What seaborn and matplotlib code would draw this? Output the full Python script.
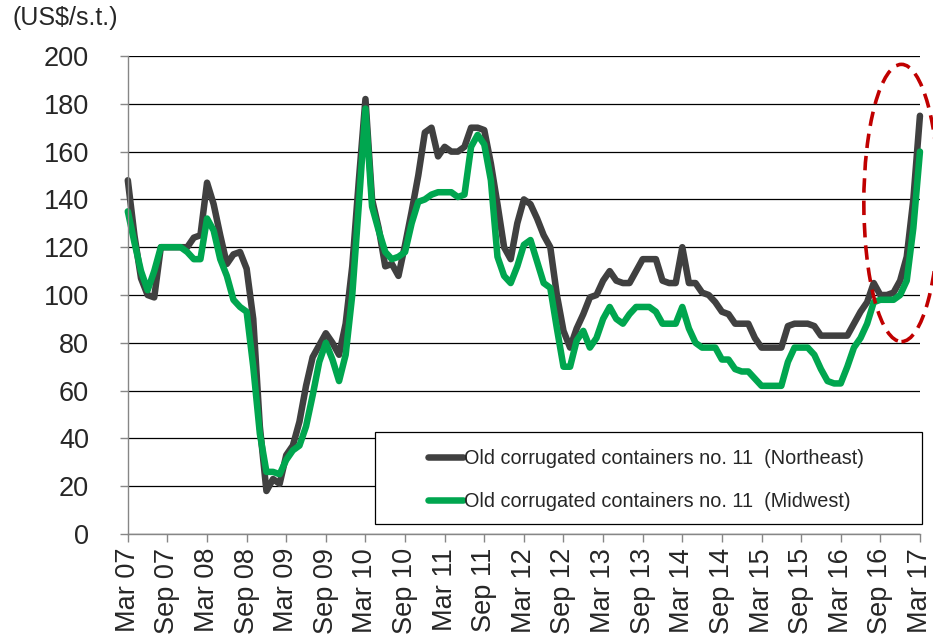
import matplotlib
matplotlib.use("Agg")
import matplotlib.pyplot as plt
from matplotlib.patches import Ellipse, Rectangle
import numpy as np
import pandas as pd
import seaborn as sns

# ---- data: monthly prices, Mar 07 .. Mar 17 (US$/short ton) ----
northeast = [
    148, 125, 107, 100, 99, 120, 120, 120, 120, 120,
    124, 125, 147, 138, 125, 113, 117, 118, 111, 90,
    45, 18, 23, 21, 33, 37, 47, 62, 74, 79,
    84, 80, 75, 88, 112, 148, 182, 140, 128, 112,
    113, 108, 121, 135, 150, 168, 170, 158, 162, 160,
    160, 162, 170, 170, 169, 155, 138, 120, 115, 130,
    140, 138, 132, 125, 120, 100, 85, 78, 86, 92,
    99, 100, 106, 110, 106, 105, 105, 110, 115, 115,
    115, 106, 105, 105, 120, 105, 105, 101, 100, 97,
    93, 92, 88, 88, 88, 82, 78, 78, 78, 78,
    87, 88, 88, 88, 87, 83, 83, 83, 83, 83,
    88, 93, 97, 105, 100, 100, 101, 106, 116, 140,
    175,
]
midwest = [
    135, 122, 110, 102, 110, 120, 120, 120, 120, 118,
    115, 115, 132, 127, 115, 108, 98, 95, 93, 70,
    42, 26, 26, 25, 31, 35, 37, 45, 58, 72,
    80, 73, 64, 75, 100, 138, 178, 137, 127, 118,
    115, 116, 118, 130, 139, 140, 142, 143, 143, 143,
    141, 142, 162, 167, 163, 148, 116, 108, 105, 112,
    121, 123, 114, 105, 103, 86, 70, 70, 81, 85,
    78, 82, 90, 95, 90, 88, 92, 95, 95, 95,
    93, 88, 88, 88, 95, 86, 80, 78, 78, 78,
    73, 73, 69, 68, 68, 65, 62, 62, 62, 62,
    72, 78, 78, 78, 75, 69, 64, 63, 63, 70,
    78, 82, 88, 97, 98, 98, 98, 100, 106, 128,
    160,
]
tick_labels = [
    "Mar 07", "Sep 07", "Mar 08", "Sep 08", "Mar 09", "Sep 09", "Mar 10",
    "Sep 10", "Mar 11", "Sep 11", "Mar 12", "Sep 12", "Mar 13", "Sep 13",
    "Mar 14", "Sep 14", "Mar 15", "Sep 15", "Mar 16", "Sep 16", "Mar 17",
]
series_names = [
    "Old corrugated containers no. 11  (Northeast)",
    "Old corrugated containers no. 11  (Midwest)",
]
colors = ["#404040", "#00A64F"]

months = np.arange(len(northeast))
df = pd.DataFrame({
    "month": np.concatenate([months, months]),
    "price": northeast + midwest,
    "series": [series_names[0]] * len(northeast) + [series_names[1]] * len(midwest),
})

sns.set_theme(style="white")
plt.rcParams["font.family"] = ["Liberation Sans", "DejaVu Sans"]

fig = plt.figure(figsize=(9.33, 6.4), dpi=100)
ax = fig.add_axes([0.137, 0.1656, 0.849, 0.7469])

sns.lineplot(data=df, x="month", y="price", hue="series", palette=colors,
             linewidth=4.7, ax=ax, legend=False)
for ln in ax.lines:
    ln.set_clip_on(False)
    ln.set_solid_joinstyle("round")

ax.set_xlim(0, len(northeast) - 1)
ax.set_ylim(0, 200)
ax.set_yticks(range(0, 201, 20))
ax.set_xticks(range(0, len(northeast), 6))
ax.set_xticklabels(tick_labels, rotation=90, fontsize=19.5)
ax.tick_params(axis="y", labelsize=19.5, length=6, width=1, color="#868686", pad=22, left=True)
ax.tick_params(axis="x", length=6, width=1, color="#868686", pad=4, bottom=True)
ax.set_xlabel("")
ax.set_ylabel("")

ax.yaxis.grid(True, color="black", linewidth=0.9)
ax.set_axisbelow(True)
for side in ["top", "right"]:
    ax.spines[side].set_visible(False)
for side in ["left", "bottom"]:
    ax.spines[side].set_color("#868686")
    ax.spines[side].set_linewidth(1)

fig.text(0.013, 0.990, "(US$/s.t.)", fontsize=18, ha="left", va="top")

# red dashed ring round the latest surge
ring = Ellipse((117.2, 138.5), width=11.4, height=116, fill=False,
               edgecolor="#C00000", linewidth=2.6, linestyle=(0, (4.0, 2.2)),
               clip_on=False, zorder=5)
ax.add_patch(ring)

# legend with a square black frame
frame = Rectangle((0.312, 0.021), 0.690, 0.192, transform=ax.transAxes,
                  facecolor="white", edgecolor="black", linewidth=0.9,
                  clip_on=False, zorder=6)
ax.add_patch(frame)
leg = ax.legend(handles=ax.lines[:2], labels=series_names, loc="upper left",
                bbox_to_anchor=(0.379, 0.178), frameon=False, fontsize=14.3,
                handlelength=1.75, handletextpad=0.08, labelspacing=1.2,
                borderpad=0, borderaxespad=0)
leg.set_zorder(7)

fig.savefig("out.png", dpi=100)
